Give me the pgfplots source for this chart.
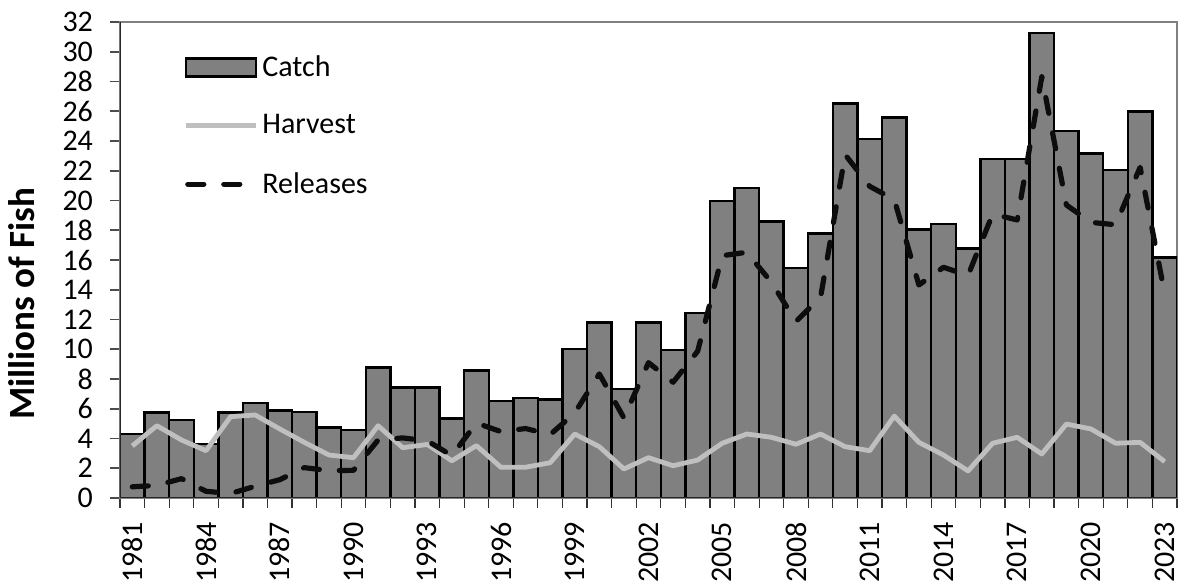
\documentclass[border=0pt]{standalone}
\usepackage{fontspec}
\setmainfont{Carlito}
\usepackage{pgfplots}
\usepackage{pgfplotstable}
\pgfplotsset{compat=1.18}
\definecolor{barfill}{HTML}{808080}
\definecolor{harv}{HTML}{BFBFBF}
\pgfplotstableread{
idx year catch harvest releases
0 1981 4.30 3.50 0.75
1 1982 5.75 4.86 0.85
2 1983 5.24 3.90 1.30
3 1984 3.63 3.18 0.45
4 1985 5.75 5.47 0.30
5 1986 6.37 5.58 0.79
6 1987 5.87 4.64 1.23
7 1988 5.78 3.74 2.04
8 1989 4.73 2.89 1.84
9 1990 4.57 2.71 1.86
10 1991 8.76 4.86 3.90
11 1992 7.42 3.38 4.04
12 1993 7.44 3.60 3.84
13 1994 5.35 2.50 2.85
14 1995 8.56 3.52 5.04
15 1996 6.52 2.06 4.46
16 1997 6.74 2.07 4.67
17 1998 6.63 2.37 4.26
18 1999 10.02 4.30 5.72
19 2000 11.79 3.45 8.34
20 2001 7.33 1.95 5.38
21 2002 11.81 2.71 9.10
22 2003 9.95 2.17 7.78
23 2004 12.42 2.55 9.87
24 2005 19.97 3.68 16.29
25 2006 20.82 4.30 16.52
26 2007 18.58 4.08 14.50
27 2008 15.48 3.61 11.87
28 2009 17.79 4.30 13.49
29 2010 26.53 3.45 23.08
30 2011 24.13 3.18 20.95
31 2012 25.57 5.51 20.06
32 2013 18.06 3.74 14.32
33 2014 18.40 2.89 15.51
34 2015 16.78 1.82 14.96
35 2016 22.77 3.68 19.09
36 2017 22.77 4.08 18.69
37 2018 31.28 2.96 28.32
38 2019 24.67 4.97 19.70
39 2020 23.17 4.64 18.53
40 2021 22.05 3.68 18.37
41 2022 25.97 3.74 22.23
42 2023 16.18 2.44 13.74
}\datatable
\begin{document}
\begin{tikzpicture}
\useasboundingbox (-60pt,-44.5pt) rectangle (532pt,249pt);
\begin{axis}[
  scale only axis,
  width=528.5pt, height=238pt,
  xmin=-0.5, xmax=42.5,
  ymin=0, ymax=32,
  ytick={0,2,...,32},
  xtick={0,3,...,42},
  xticklabels={1981,1984,1987,1990,1993,1996,1999,2002,2005,2008,2011,2014,2017,2020,2023},
  minor xtick={-0.5,0.5,...,42.5},
  tick align=outside,
  major tick length=5pt,
  minor tick length=5pt,
  major x tick style={draw=none},
  minor x tick style={black!80, line width=0.6pt},
  major y tick style={black!70, line width=0.8pt},
  xtick pos=bottom, ytick pos=left,
  axis line style={draw=gray, line width=1pt},
  /pgf/number format/assume math mode=true,
  tick label style={font=\fontsize{15}{17}\selectfont},
  x tick label style={rotate=90, anchor=east},
  xticklabel shift=3.5pt,
  y tick label style={xshift=-5pt},
  ylabel={Millions of Fish},
  every axis y label/.style={at={(axis description cs:-0.0935,0.408)}, rotate=90, anchor=center, font=\bfseries\fontsize{18.5}{22}\selectfont},
  legend style={font=\fontsize{15}{17}\selectfont, draw=none, fill=none,
    at={(axis description cs:0.0596,0.939)}, anchor=north west,
    inner sep=0pt, row sep=13.7pt, column sep=0pt, cells={anchor=west}},
  legend cell align=left,
]
\addplot[ybar, bar width=1, fill=barfill, draw=black, line width=1.2pt,
  legend image code/.code={\draw[fill=barfill, draw=black, line width=1.2pt] (0pt,-4.5pt) rectangle (35pt,4.5pt);}]
  table[x=idx, y=catch] {\datatable};
\addlegendentry{Catch}
\addplot[harv, line width=2.4pt, line join=round,
  legend image code/.code={\draw[harv, line width=2.4pt] (0pt,0pt) -- (35pt,0pt);}]
  table[x=idx, y=harvest] {\datatable};
\addlegendentry{Harvest}
\addplot[black!95, line width=2.6pt, line cap=round, line join=round, dash pattern=on 8pt off 10pt,
  legend image code/.code={\draw[black!95, line width=2.6pt, line cap=round, dash pattern=on 8pt off 10pt] (1pt,0pt) -- (35pt,0pt);}]
  table[x=idx, y=releases] {\datatable};
\addlegendentry{Releases}
\draw[black!85, line width=1pt] (rel axis cs:0,1) -- (rel axis cs:0,0) -- (rel axis cs:1,0);
\end{axis}
\end{tikzpicture}
\end{document}
